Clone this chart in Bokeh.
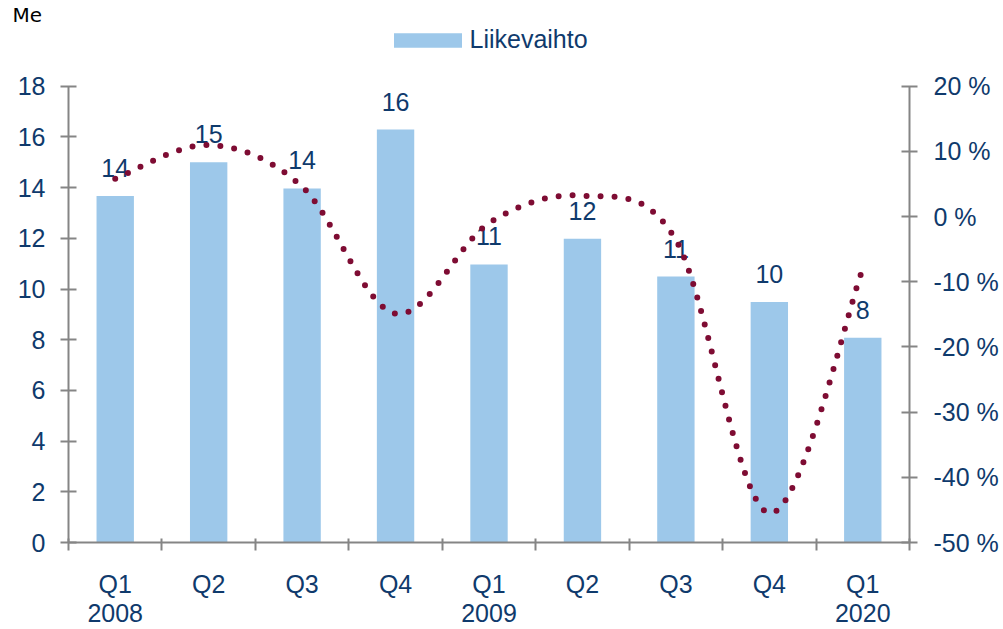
import numpy as np
from bokeh.plotting import figure
from bokeh.models import (Range1d, LinearAxis, FixedTicker, Legend, LegendItem,
                          PrintfTickFormatter)
from bokeh.core.properties import value
from bokeh.embed import file_html
from bokeh.resources import INLINE

# ---- data ----
quarters = ["Q1", "Q2", "Q3", "Q4", "Q1", "Q2", "Q3", "Q4", "Q1"]
years = ["2008", "", "", "", "2009", "", "", "", "2020"]
revenue = [13.67, 15.0, 13.97, 16.29, 10.97, 11.98, 10.49, 9.49, 8.08]
revenue_labels = ["14", "15", "14", "16", "11", "12", "11", "10", "8"]
growth = [5.8, 11.0, 4.6, -14.9, -1.0, 3.2, -3.6, -45.5, -8.0]
left_ticks = [0, 2, 4, 6, 8, 10, 12, 14, 16, 18]
right_ticks = [-50, -40, -30, -20, -10, 0, 10, 20]
left_bounds = (0, 18)
right_bounds = (-50, 20)
legend_label = "Liikevaihto"
unit_label = "Me"

# ---- styles / layout ----
BLUE_TEXT = "#0F3A6C"
BAR = "#9DC8EA"
DOT = "#7E0C33"
AXIS = "#858585"
FONT = "Liberation Sans"
FRAME_TOP, AXIS_TOP, AXIS_BOTTOM = 25, 86, 544   # canvas pixels
LEGEND_BOTTOM = 56                               # canvas pixels
stretch = (AXIS_BOTTOM - FRAME_TOP) / (AXIS_BOTTOM - AXIS_TOP)

n = len(quarters)
centers = [i + 0.5 for i in range(n)]

y_end = left_bounds[0] + (left_bounds[1] - left_bounds[0]) * stretch
r_end = right_bounds[0] + (right_bounds[1] - right_bounds[0]) * stretch

p = figure(width=1003, height=629, x_range=Range1d(0, n), y_range=Range1d(left_bounds[0], y_end),
           output_backend="svg", toolbar_location=None, title=unit_label,
           min_border_left=68, min_border_right=94, min_border_top=FRAME_TOP,
           min_border_bottom=629 - AXIS_BOTTOM)
p.extra_y_ranges = {"pct": Range1d(right_bounds[0], r_end)}
p.xgrid.visible = False
p.ygrid.visible = False
p.outline_line_color = None

p.title.align = "left"
p.title.offset = -56
p.title.standoff = -2
p.title.text_font = "DejaVu Sans"
p.title.text_font_size = "20px"
p.title.text_font_style = "normal"
p.title.text_color = "black"

bars = p.vbar(x=centers, top=revenue, width=0.4, fill_color=BAR, line_color=None)

p.text(x=centers, y=revenue, text=revenue_labels, text_align="center",
       text_baseline="alphabetic", y_offset=-28, text_font=value(FONT),
       text_font_size="25px", text_color=BLUE_TEXT)

# smoothed growth line (Bezier smoothing through the data points)
xs, ys = [], []
pts = list(zip(centers, growth))
for i in range(n - 1):
    p0 = pts[max(i - 1, 0)]
    p1 = pts[i]
    p2 = pts[i + 1]
    p3 = pts[min(i + 2, n - 1)]
    b1 = (p1[0] + (p2[0] - p0[0]) / 6, p1[1] + (p2[1] - p0[1]) / 6)
    b2 = (p2[0] - (p3[0] - p1[0]) / 6, p2[1] - (p3[1] - p1[1]) / 6)
    for t in np.linspace(0, 1, 40, endpoint=(i == n - 2)):
        mt = 1 - t
        xs.append(mt**3 * p1[0] + 3 * mt**2 * t * b1[0] + 3 * mt * t**2 * b2[0] + t**3 * p2[0])
        ys.append(mt**3 * p1[1] + 3 * mt**2 * t * b1[1] + 3 * mt * t**2 * b2[1] + t**3 * p2[1])
p.line(xs, ys, y_range_name="pct", line_color=DOT, line_width=6,
       line_dash="0 14", line_cap="round")


def style_axis(ax):
    ax.axis_line_color = AXIS
    ax.axis_line_width = 2
    ax.major_tick_line_color = AXIS
    ax.major_tick_line_width = 2
    ax.minor_tick_line_color = AXIS
    ax.minor_tick_line_width = 2
    ax.major_label_text_font = FONT
    ax.major_label_text_font_size = "25px"
    ax.major_label_text_color = BLUE_TEXT


# left axis
ly = p.yaxis[0]
ly.ticker = FixedTicker(ticks=left_ticks)
ly.bounds = left_bounds
style_axis(ly)
ly.major_tick_in = 8
ly.major_tick_out = 8
ly.minor_tick_in = 0
ly.minor_tick_out = 0
ly.major_label_standoff = 15

# right axis
ry = LinearAxis(y_range_name="pct", ticker=FixedTicker(ticks=right_ticks),
                formatter=PrintfTickFormatter(format="%d %%"), bounds=right_bounds)
style_axis(ry)
ry.major_tick_in = 8
ry.major_tick_out = 8
ry.minor_tick_in = 0
ry.minor_tick_out = 0
ry.major_label_standoff = 16
p.add_layout(ry, "right")

# bottom axis
bx = p.xaxis[0]
bx.ticker = FixedTicker(ticks=centers, minor_ticks=list(range(n + 1)))
style_axis(bx)
bx.major_tick_in = 0
bx.major_tick_out = 0
bx.minor_tick_in = 4
bx.minor_tick_out = 8
bx.major_label_standoff = 19
bx.major_label_text_line_height = 1.04
bx.major_label_overrides = {c: (q + "\n" + y if y else q) for c, q, y in zip(centers, quarters, years)}

legend = Legend(items=[LegendItem(label=legend_label, renderers=[bars])],
                location=(316.5, AXIS_BOTTOM - LEGEND_BOTTOM), orientation="horizontal",
                glyph_width=85, glyph_height=18, label_standoff=0, label_height=18,
                label_text_font=FONT, label_text_font_size="25px",
                label_text_color=BLUE_TEXT, border_line_color=None,
                background_fill_alpha=0, padding=0, margin=0, spacing=0)
p.add_layout(legend, "center")

open("out.html", "w").write(file_html(p, INLINE))
